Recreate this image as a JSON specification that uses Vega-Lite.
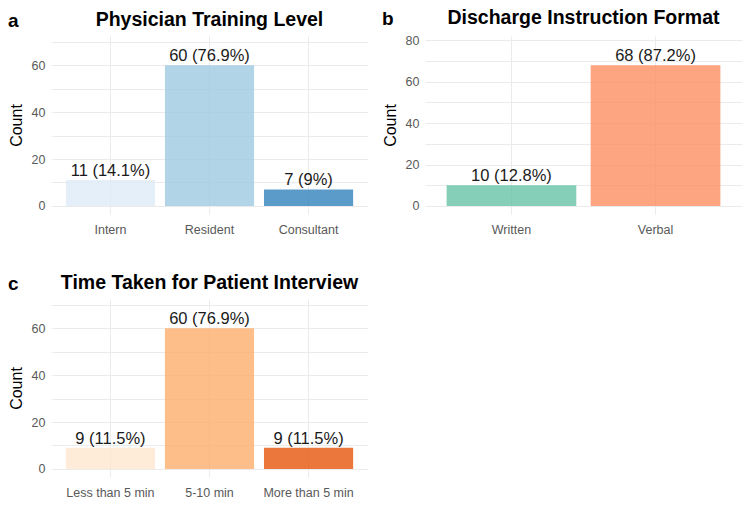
{
  "$schema": "https://vega.github.io/schema/vega-lite/v6.json",
  "background": "white",
  "padding": {"left": 8, "top": 7, "right": 2, "bottom": 2},
  "config": {
    "view": {"stroke": null},
    "font": "Liberation Sans",
    "title": {"fontSize": 19.5, "fontWeight": "bold", "color": "black", "offset": 6},
    "axis": {"gridColor": "#ebebeb", "gridWidth": 1, "domain": false, "ticks": false, "labelColor": "#595959", "labelFontSize": 12.5, "titleFontSize": 16, "titleFontWeight": "normal", "titleColor": "black"}
  },
  "resolve": {"scale": {"color": "independent"}},
  "spacing": 36,
  "datasets": {
    "a": [
      {"cat": "Intern", "count": 11, "label": "11 (14.1%)"},
      {"cat": "Resident", "count": 60, "label": "60 (76.9%)"},
      {"cat": "Consultant", "count": 7, "label": "7 (9%)"}
    ],
    "b": [
      {"cat": "Written", "count": 10, "label": "10 (12.8%)"},
      {"cat": "Verbal", "count": 68, "label": "68 (87.2%)"}
    ],
    "c": [
      {"cat": "Less than 5 min", "count": 9, "label": "9 (11.5%)"},
      {"cat": "5-10 min", "count": 60, "label": "60 (76.9%)"},
      {"cat": "More than 5 min", "count": 9, "label": "9 (11.5%)"}
    ]
  },
  "vconcat": [
    {
      "spacing": 14,
      "resolve": {"scale": {"color": "independent"}},
      "hconcat": [
        {
          "title": {"text": "a", "anchor": "start", "fontSize": 19, "dy": 21, "offset": 0},
          "vconcat": [
            {
              "title": {"text": "Physician Training Level"},
              "width": 317, "height": 178,
              "data": {"name": "a"},
              "encoding": {
                "x": {"field": "cat", "type": "nominal", "sort": ["Intern", "Resident", "Consultant"],
                  "scale": {"paddingInner": 0.1, "paddingOuter": 0.15},
                  "axis": {"title": null, "labelAngle": 0, "bandPosition": 0.5, "labelPadding": 9, "grid": true}},
                "y": {"field": "count", "type": "quantitative",
                  "scale": {"domain": [-3.45, 72.45], "nice": false, "zero": false},
                  "axis": {"title": "Count", "values": [0, 10, 20, 30, 40, 50, 60, 70], "labelExpr": "datum.value % 20 == 0 ? datum.label : ''", "labelPadding": 6, "titlePadding": 7}}
              },
              "layer": [
                {"mark": {"type": "bar", "opacity": 0.8},
                  "encoding": {"y2": {"datum": 0},
                    "color": {"field": "cat", "type": "nominal", "legend": null,
                      "scale": {"domain": ["Intern", "Resident", "Consultant"], "range": ["#deebf7", "#9ecae1", "#3182bd"]}}}},
                {"mark": {"type": "text", "baseline": "alphabetic", "dy": -4, "fontSize": 16.5, "color": "#1a1a1a"},
                  "encoding": {"text": {"field": "label"}}}
              ]
            }
          ]
        },
        {
          "title": {"text": "b", "anchor": "start", "fontSize": 19, "dy": 21, "offset": 0},
          "vconcat": [
            {
              "title": {"text": "Discharge Instruction Format"},
              "width": 317, "height": 178,
              "data": {"name": "b"},
              "encoding": {
                "x": {"field": "cat", "type": "nominal", "sort": ["Written", "Verbal"],
                  "scale": {"paddingInner": 0.1, "paddingOuter": 0.15},
                  "axis": {"title": null, "labelAngle": 0, "bandPosition": 0.5, "labelPadding": 9, "grid": true}},
                "y": {"field": "count", "type": "quantitative",
                  "scale": {"domain": [-3.91, 82.11], "nice": false, "zero": false},
                  "axis": {"title": "Count", "values": [0, 10, 20, 30, 40, 50, 60, 70, 80], "labelExpr": "datum.value % 20 == 0 ? datum.label : ''", "labelPadding": 6, "titlePadding": 7}}
              },
              "layer": [
                {"mark": {"type": "bar", "opacity": 0.8},
                  "encoding": {"y2": {"datum": 0},
                    "color": {"field": "cat", "type": "nominal", "legend": null,
                      "scale": {"domain": ["Written", "Verbal"], "range": ["#66c2a5", "#fc8d62"]}}}},
                {"mark": {"type": "text", "baseline": "alphabetic", "dy": -4, "fontSize": 16.5, "color": "#1a1a1a"},
                  "encoding": {"text": {"field": "label"}}}
              ]
            }
          ]
        }
      ]
    },
    {
      "resolve": {"scale": {"color": "independent"}},
      "hconcat": [
        {
          "title": {"text": "c", "anchor": "start", "fontSize": 19, "dy": 21, "offset": 0},
          "vconcat": [
            {
              "title": {"text": "Time Taken for Patient Interview"},
              "width": 317, "height": 178,
              "data": {"name": "c"},
              "encoding": {
                "x": {"field": "cat", "type": "nominal", "sort": ["Less than 5 min", "5-10 min", "More than 5 min"],
                  "scale": {"paddingInner": 0.1, "paddingOuter": 0.15},
                  "axis": {"title": null, "labelAngle": 0, "bandPosition": 0.5, "labelPadding": 9, "grid": true}},
                "y": {"field": "count", "type": "quantitative",
                  "scale": {"domain": [-3.45, 72.45], "nice": false, "zero": false},
                  "axis": {"title": "Count", "values": [0, 10, 20, 30, 40, 50, 60, 70], "labelExpr": "datum.value % 20 == 0 ? datum.label : ''", "labelPadding": 6, "titlePadding": 7}}
              },
              "layer": [
                {"mark": {"type": "bar", "opacity": 0.8},
                  "encoding": {"y2": {"datum": 0},
                    "color": {"field": "cat", "type": "nominal", "legend": null,
                      "scale": {"domain": ["Less than 5 min", "5-10 min", "More than 5 min"], "range": ["#fee6ce", "#fdae6b", "#e6550d"]}}}},
                {"mark": {"type": "text", "baseline": "alphabetic", "dy": -4, "fontSize": 16.5, "color": "#1a1a1a"},
                  "encoding": {"text": {"field": "label"}}}
              ]
            }
          ]
        }
      ]
    }
  ]
}
